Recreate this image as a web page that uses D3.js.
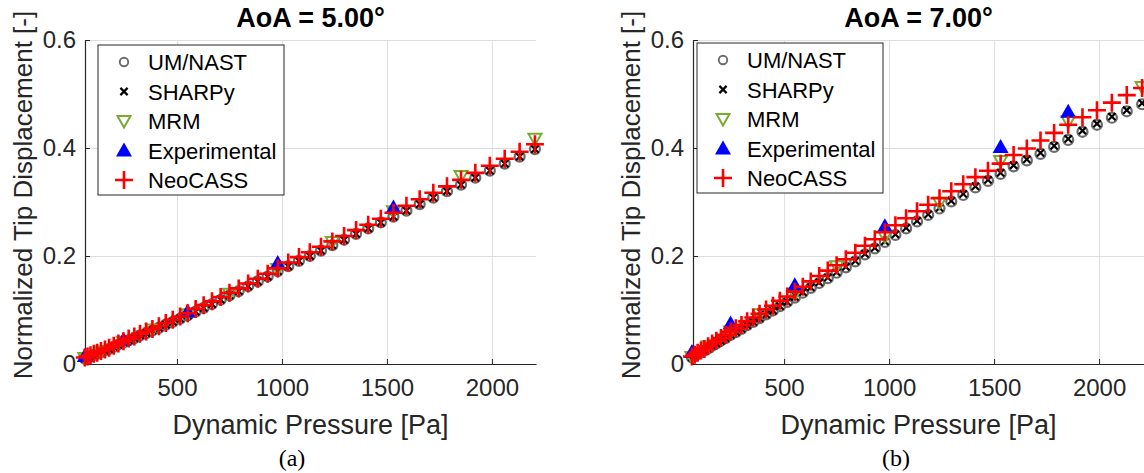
<!DOCTYPE html>
<html>
<head>
<meta charset="utf-8">
<script src="https://cdn.jsdelivr.net/npm/d3@7"></script>
<style>
  body { margin: 0; background: #fff; }
  svg { display: block; font-family: "Liberation Sans", Arial, sans-serif; }
</style>
</head>
<body>
<svg id="chart" width="1144" height="473"></svg>
<script>
// dynamic pressure of each test/simulation point [Pa]
var pressure = [61, 74, 88, 104, 120, 138, 157, 177, 199, 221, 245, 270, 297, 324, 353, 383, 414, 447, 480, 515,
    551, 589, 627, 667, 708, 750, 794, 839, 885, 932, 980, 1030, 1081, 1133, 1186, 1240, 1296, 1353, 1411, 1471,
    1531, 1593, 1656, 1721, 1786, 1853, 1921, 1990, 2061, 2132, 2205];
var pressureMRM = [61, 138, 245, 383, 551, 750, 980, 1240, 1531, 1853, 2205];

// AoA = 5 deg
var um5 = [0.010, 0.012, 0.014, 0.017, 0.019, 0.022, 0.025, 0.028, 0.032, 0.036, 0.040, 0.044, 0.048, 0.053, 0.057,
    0.062, 0.067, 0.073, 0.078, 0.084, 0.090, 0.097, 0.104, 0.111, 0.119, 0.127, 0.135, 0.144, 0.153, 0.162, 0.172,
    0.181, 0.191, 0.200, 0.210, 0.220, 0.230, 0.241, 0.251, 0.262, 0.273, 0.284, 0.296, 0.308, 0.320, 0.332, 0.345,
    0.358, 0.371, 0.384, 0.398];
var sharpy5 = [0.010, 0.012, 0.014, 0.017, 0.019, 0.022, 0.025, 0.028, 0.032, 0.036, 0.040, 0.044, 0.048, 0.053, 0.057,
    0.062, 0.067, 0.073, 0.078, 0.084, 0.090, 0.097, 0.104, 0.111, 0.119, 0.127, 0.135, 0.144, 0.153, 0.162, 0.172,
    0.181, 0.191, 0.200, 0.210, 0.220, 0.230, 0.241, 0.251, 0.262, 0.273, 0.284, 0.296, 0.308, 0.320, 0.332, 0.345,
    0.358, 0.371, 0.384, 0.398];
var neo5 = [0.012, 0.014, 0.016, 0.019, 0.021, 0.024, 0.027, 0.030, 0.034, 0.038, 0.042, 0.047, 0.051, 0.056, 0.060,
    0.065, 0.070, 0.076, 0.082, 0.088, 0.094, 0.102, 0.109, 0.116, 0.124, 0.132, 0.140, 0.149, 0.158, 0.167, 0.177,
    0.188, 0.198, 0.207, 0.217, 0.227, 0.237, 0.248, 0.258, 0.269, 0.280, 0.293, 0.305, 0.317, 0.329, 0.341, 0.354,
    0.367, 0.380, 0.393, 0.407];
var mrm5 = [0.011, 0.023, 0.041, 0.064, 0.092, 0.130, 0.176, 0.226, 0.283, 0.348, 0.417];
var expQ5 = [61, 245, 551, 980, 1531];
var exp5 = [0.015, 0.045, 0.097, 0.187, 0.290];

// AoA = 7 deg
var um7 = [0.012, 0.015, 0.018, 0.022, 0.025, 0.029, 0.034, 0.038, 0.043, 0.048, 0.054, 0.059, 0.065, 0.072, 0.078,
    0.085, 0.092, 0.099, 0.107, 0.115, 0.123, 0.132, 0.141, 0.150, 0.159, 0.169, 0.179, 0.190, 0.203, 0.214, 0.226,
    0.239, 0.251, 0.264, 0.276, 0.288, 0.301, 0.313, 0.327, 0.339, 0.352, 0.366, 0.377, 0.389, 0.402, 0.415, 0.430,
    0.443, 0.456, 0.468, 0.481];
var sharpy7 = [0.012, 0.015, 0.018, 0.022, 0.025, 0.029, 0.034, 0.038, 0.043, 0.048, 0.054, 0.059, 0.065, 0.072, 0.078,
    0.085, 0.092, 0.099, 0.107, 0.115, 0.124, 0.133, 0.142, 0.151, 0.160, 0.170, 0.180, 0.191, 0.204, 0.215, 0.227,
    0.240, 0.252, 0.265, 0.277, 0.289, 0.302, 0.315, 0.329, 0.341, 0.354, 0.368, 0.379, 0.391, 0.404, 0.417, 0.432,
    0.445, 0.458, 0.470, 0.483];
var neo7 = [0.014, 0.017, 0.021, 0.025, 0.028, 0.033, 0.038, 0.043, 0.048, 0.054, 0.060, 0.066, 0.072, 0.079, 0.086,
    0.093, 0.101, 0.108, 0.117, 0.125, 0.134, 0.143, 0.153, 0.163, 0.173, 0.183, 0.194, 0.206, 0.219, 0.231, 0.244,
    0.257, 0.270, 0.283, 0.295, 0.307, 0.320, 0.333, 0.346, 0.358, 0.371, 0.387, 0.399, 0.414, 0.428, 0.443, 0.457,
    0.470, 0.484, 0.498, 0.511];
var mrm7 = [0.013, 0.033, 0.060, 0.092, 0.130, 0.181, 0.236, 0.299, 0.376, 0.449, 0.513];
var expQ7 = [61, 245, 551, 980, 1531, 1853];
var exp7 = [0.022, 0.075, 0.146, 0.255, 0.402, 0.467];

var xTicks = [500, 1000, 1500, 2000];
var yTicks = [0, 0.2, 0.4, 0.6];
var legendNames = ["UM/NAST", "SHARPy", "MRM", "Experimental", "NeoCASS"];

var svg = d3.select("#chart");
var plotH = 324, plotW = 451, top0 = 40;

// marker shapes
var shapes = {
    circle: function () { return d3.symbol(d3.symbolCircle, Math.PI * 25)(); },
    cross: function () { return "M-3.6,-3.6L3.6,3.6M-3.6,3.6L3.6,-3.6"; },
    triDown: function () { return "M-6.5,-5L6.5,-5L0,6.5Z"; },
    triUp: function () { return "M0,-8L8,6L-8,6Z"; },
    plus: function () { return "M-9,0H9M0,-9V9"; }
};
var styles = [
    {shape: "circle", fill: "none", stroke: "#6b6b6b", sw: 2.2},
    {shape: "cross", fill: "none", stroke: "#000", sw: 2.2},
    {shape: "triDown", fill: "none", stroke: "#77ac30", sw: 2},
    {shape: "triUp", fill: "#0000ff", stroke: "none", sw: 0},
    {shape: "plus", fill: "none", stroke: "#ff0000", sw: 2.6}
];

function zip(xs, ys) {
    return xs.map(function (x, i) { return [x, ys[i]]; });
}

function drawPanel(cfg) {
    var x = d3.scaleLinear().domain(cfg.xDomain).range([cfg.left, cfg.left + plotW]);
    var y = d3.scaleLinear().domain([0, 0.6]).range([top0 + plotH, top0]);
    var g = svg.append("g");

    // grid
    g.append("g").attr("transform", "translate(0," + (top0 + plotH) + ")")
        .call(d3.axisBottom(x).tickValues(xTicks).tickSize(-plotH).tickFormat(""))
        .call(function (a) { a.select(".domain").remove(); a.selectAll("line").attr("stroke", "#dedede"); });
    g.append("g").attr("transform", "translate(" + cfg.left + ",0)")
        .call(d3.axisLeft(y).tickValues([0.2, 0.4, 0.6]).tickSize(-plotW).tickFormat(""))
        .call(function (a) { a.select(".domain").remove(); a.selectAll("line").attr("stroke", "#dedede"); });

    // axes
    var xa = g.append("g").attr("transform", "translate(0," + (top0 + plotH) + ")")
        .call(d3.axisBottom(x).tickValues(xTicks).tickSizeInner(-5).tickSizeOuter(0).tickPadding(15)
            .tickFormat(d3.format("d")));
    var ya = g.append("g").attr("transform", "translate(" + cfg.left + ",0)")
        .call(d3.axisLeft(y).tickValues(yTicks).tickSizeInner(-5).tickSizeOuter(0).tickPadding(9)
            .tickFormat(function (d) { return d === 0 ? "0" : d3.format(".1f")(d); }));
    [xa, ya].forEach(function (a) {
        a.select(".domain").attr("stroke", "#262626").attr("stroke-width", 1.2);
        a.selectAll(".tick line").attr("stroke", "#262626");
        a.selectAll("text").attr("fill", "#262626").attr("font-size", 24)
            .attr("font-family", "Liberation Sans, Arial, sans-serif");
    });

    // series
    var series = [zip(pressure, cfg.um), zip(pressure, cfg.sharpy), zip(pressureMRM, cfg.mrm),
        zip(cfg.expQ, cfg.exp), zip(pressure, cfg.neo)];
    series.forEach(function (data, i) {
        var st = styles[i];
        g.append("g").selectAll("path").data(data).enter().append("path")
            .attr("d", shapes[st.shape]())
            .attr("transform", function (d) { return "translate(" + x(d[0]) + "," + y(d[1]) + ")"; })
            .attr("fill", st.fill).attr("stroke", st.stroke).attr("stroke-width", st.sw);
    });

    // legend
    var lg = g.append("g").attr("transform", "translate(" + cfg.legX + "," + cfg.legY + ")");
    lg.append("rect").attr("width", 186).attr("height", 150)
        .attr("fill", "#fff").attr("stroke", "#262626").attr("stroke-width", 1);
    legendNames.forEach(function (name, i) {
        var st = styles[i];
        var cy = 17 + i * 29.5;
        lg.append("path").attr("d", shapes[st.shape]())
            .attr("transform", "translate(26," + cy + ")" + (st.shape === "circle" ? " scale(0.85)" : ""))
            .attr("fill", st.fill).attr("stroke", st.stroke).attr("stroke-width", st.sw);
        lg.append("text").attr("x", 50).attr("y", cy + 8).text(name)
            .attr("font-size", 22).attr("fill", "#000");
    });

    // labels
    var cx = cfg.left + plotW / 2;
    svg.append("text").attr("x", cx).attr("y", 27).attr("text-anchor", "middle")
        .attr("font-size", 27).attr("font-weight", "bold").attr("fill", "#000").text(cfg.title);
    svg.append("text").attr("x", cx).attr("y", 434).attr("text-anchor", "middle")
        .attr("font-size", 27).attr("fill", "#262626").text("Dynamic Pressure [Pa]");
    svg.append("text").attr("transform", "translate(" + (cfg.left - 53) + "," + (top0 + plotH / 2 - 7) + ") rotate(-90)")
        .attr("text-anchor", "middle").attr("font-size", 26).attr("fill", "#262626")
        .text("Normalized Tip Displacement [-]");
    svg.append("text").attr("x", cfg.capX).attr("y", 466).attr("text-anchor", "middle")
        .attr("font-family", "Liberation Serif, Times New Roman, serif").attr("font-size", 24)
        .attr("fill", "#000").text(cfg.caption);
}

drawPanel({left: 85, xDomain: [62, 2210], um: um5, sharpy: sharpy5, neo: neo5, mrm: mrm5, expQ: expQ5, exp: exp5,
    legX: 98, legY: 45, title: "AoA = 5.00°", caption: "(a)", capX: 292});
drawPanel({left: 693, xDomain: [66, 2214], um: um7, sharpy: sharpy7, neo: neo7, mrm: mrm7, expQ: expQ7, exp: exp7,
    legX: 697, legY: 43, title: "AoA = 7.00°", caption: "(b)", capX: 896});
</script>
</body>
</html>
